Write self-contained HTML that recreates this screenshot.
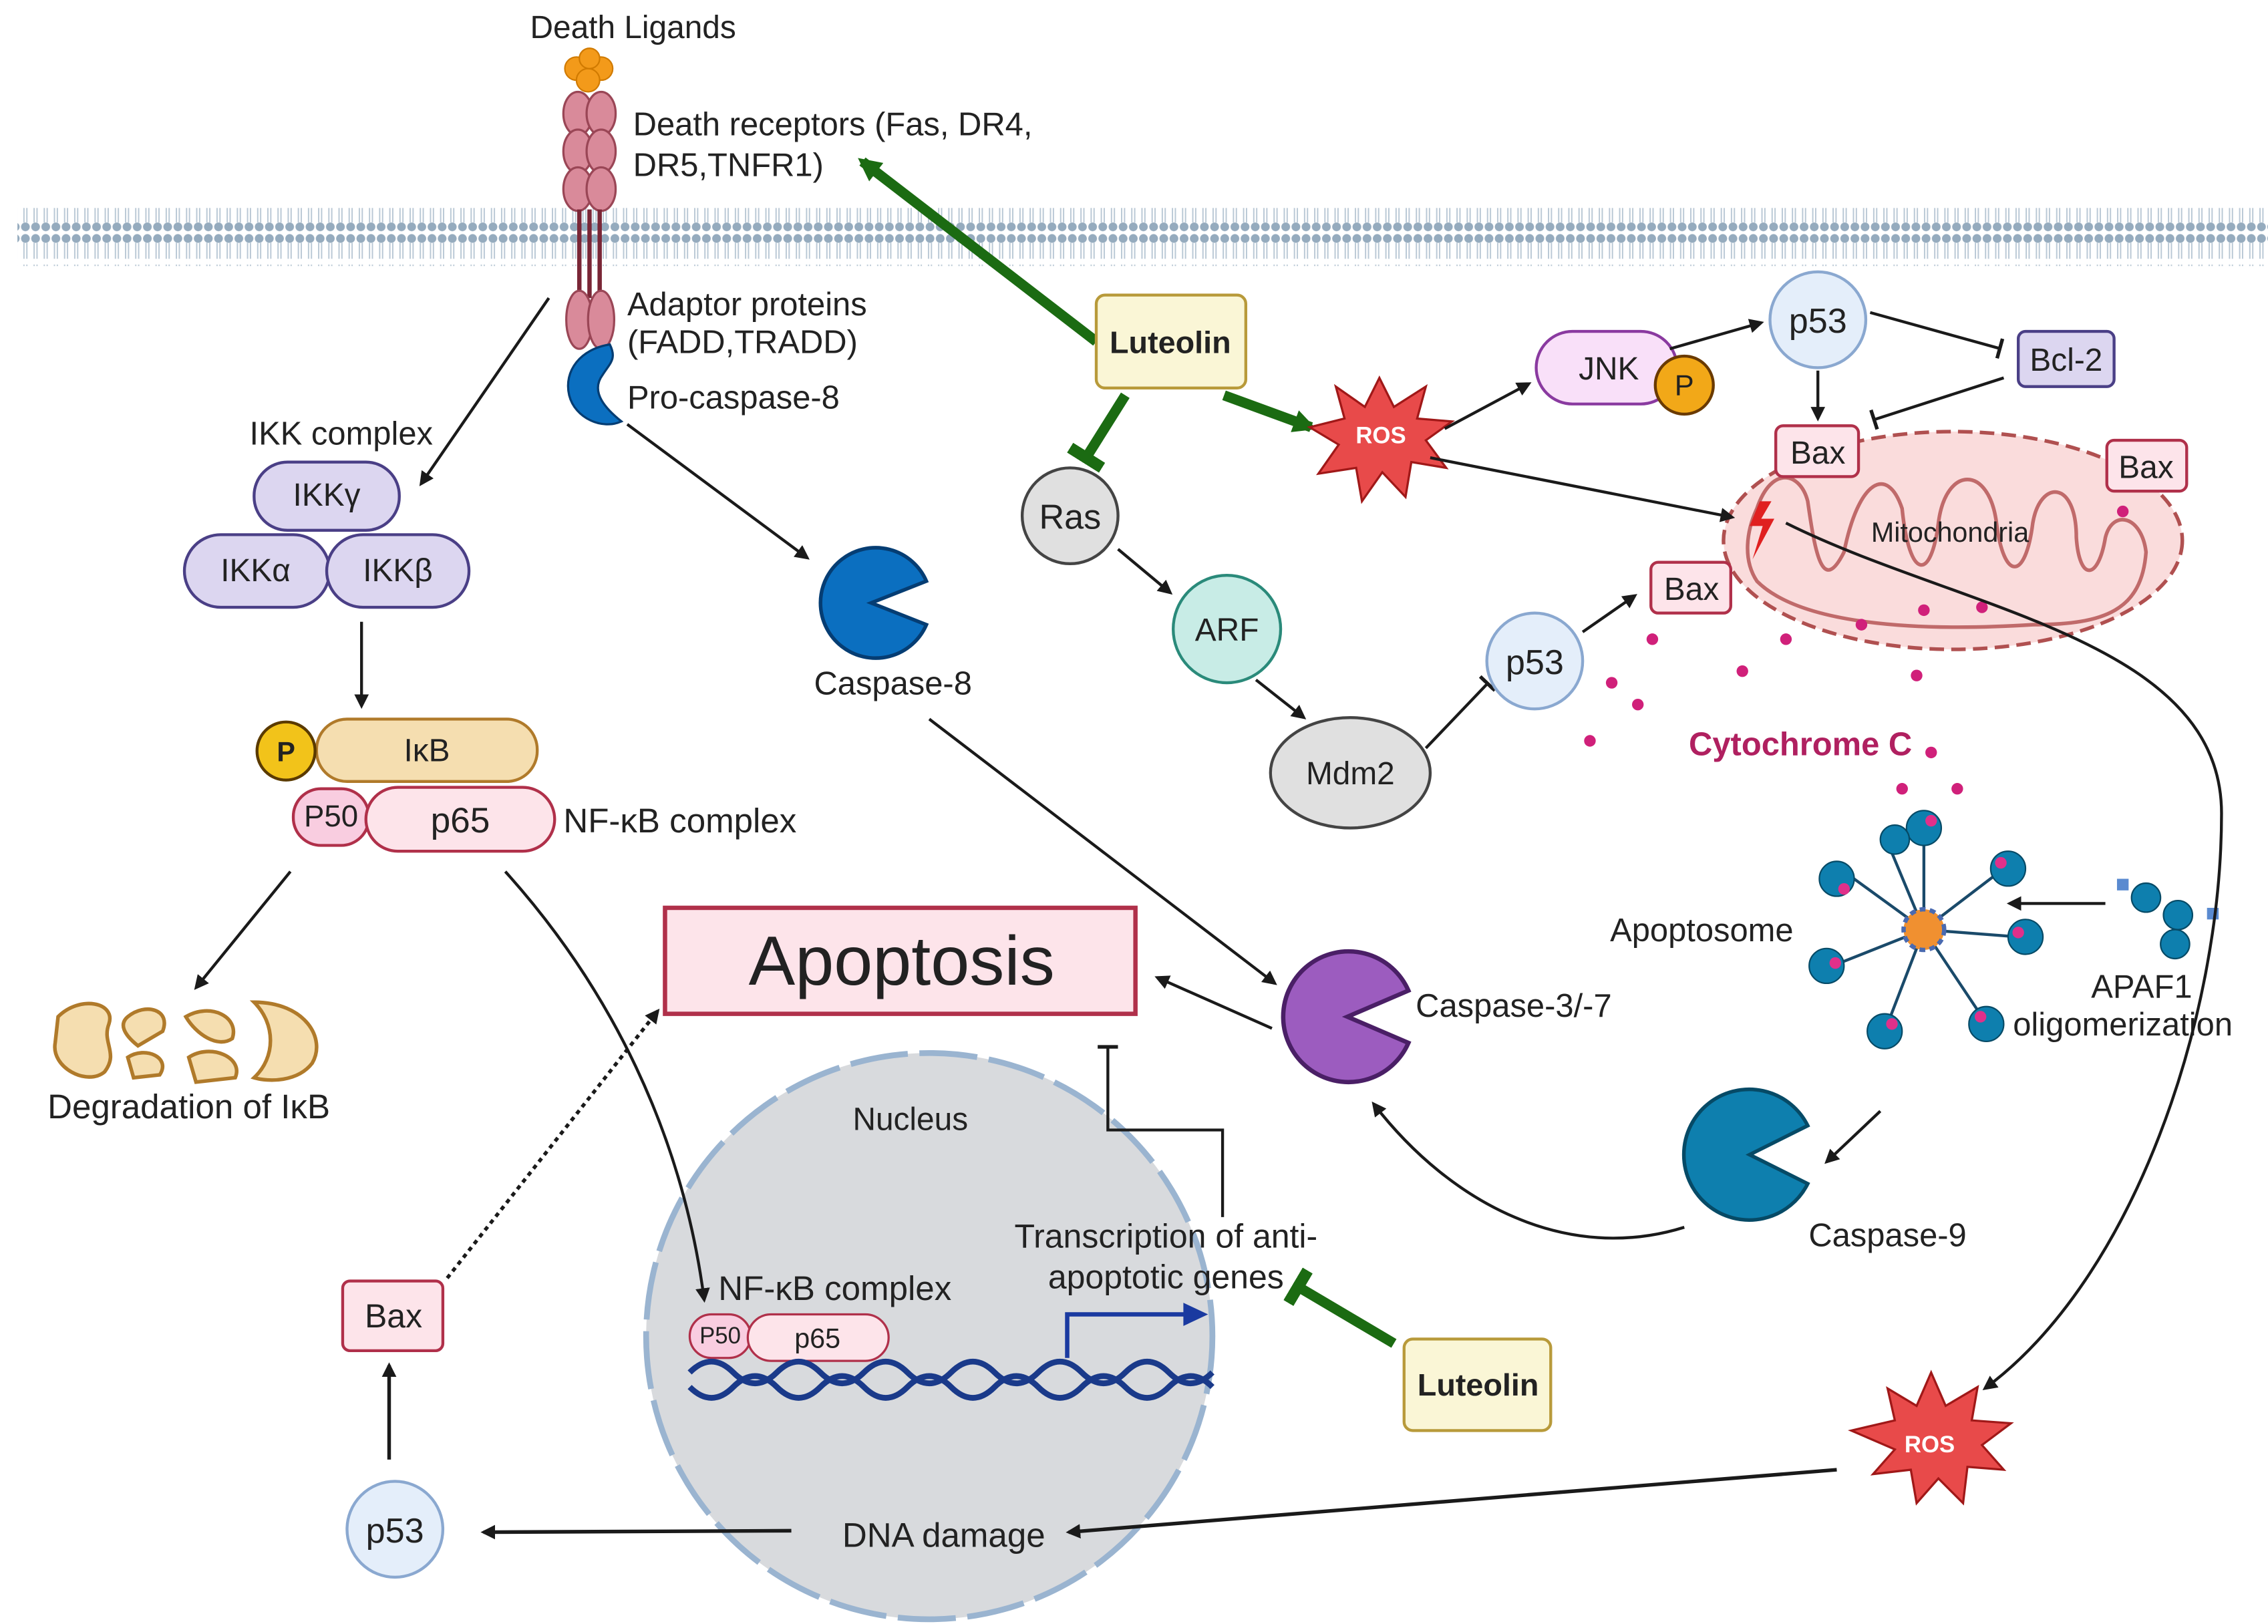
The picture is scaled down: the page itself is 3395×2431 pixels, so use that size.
<!DOCTYPE html>
<html><head><meta charset="utf-8"><style>
html,body{margin:0;padding:0;background:#fff}
svg{display:block}
text{font-family:"Liberation Sans",sans-serif;fill:#222}
</style></head><body>
<svg width="3395" height="2431" viewBox="0 0 1562 1118" xmlns="http://www.w3.org/2000/svg">
<defs>
<marker id="a" markerWidth="10" markerHeight="10" refX="8" refY="5" orient="auto" markerUnits="userSpaceOnUse"><path d="M0,0 L10,5 L0,10 z" fill="#1a1a1a"/></marker>
<marker id="g" markerWidth="16" markerHeight="16" refX="12" refY="8" orient="auto" markerUnits="userSpaceOnUse"><path d="M0,0 L16,8 L0,16 z" fill="#1b6b12"/></marker>
<marker id="t" markerWidth="4" markerHeight="14" refX="2" refY="7" orient="auto" markerUnits="userSpaceOnUse"><rect x="0" y="0" width="2.5" height="14" fill="#1a1a1a"/></marker>
<marker id="tg" markerWidth="8" markerHeight="26" refX="4" refY="13" orient="auto" markerUnits="userSpaceOnUse"><rect x="0" y="0" width="8" height="26" fill="#1b6b12"/></marker>
<pattern id="mem" width="7" height="40" patternUnits="userSpaceOnUse">
<circle cx="3.5" cy="4" r="3" fill="#95abbe"/><circle cx="3.5" cy="36" r="3" fill="#95abbe"/>
<line x1="2.5" y1="7" x2="2.5" y2="18" stroke="#b9c8d5" stroke-width="0.9"/><line x1="4.5" y1="7" x2="4.5" y2="18" stroke="#b9c8d5" stroke-width="0.9"/>
<line x1="2.5" y1="22" x2="2.5" y2="33" stroke="#b9c8d5" stroke-width="0.9"/><line x1="4.5" y1="22" x2="4.5" y2="33" stroke="#b9c8d5" stroke-width="0.9"/>
</pattern>
</defs>
<rect x="12" y="143" width="1550" height="40" fill="url(#mem)"/>

<!-- death ligands & receptor -->
<text x="436" y="26" font-size="22" text-anchor="middle">Death Ligands</text>
<g fill="#f39a1a" stroke="#d07a00"><circle cx="397" cy="47" r="8"/><circle cx="414" cy="47" r="8"/><circle cx="405" cy="55" r="8"/><circle cx="406" cy="40" r="7"/></g>
<g fill="#d98a9a" stroke="#9a4656" stroke-width="1.5">
<ellipse cx="398" cy="78" rx="10" ry="15"/><ellipse cx="414" cy="78" rx="10" ry="15"/>
<ellipse cx="398" cy="104" rx="10" ry="15"/><ellipse cx="414" cy="104" rx="10" ry="15"/>
<ellipse cx="398" cy="130" rx="10" ry="15"/><ellipse cx="414" cy="130" rx="10" ry="15"/>
</g>
<g stroke="#7a2636" stroke-width="3"><line x1="399" y1="144" x2="399" y2="205"/><line x1="406" y1="144" x2="406" y2="205"/><line x1="413" y1="144" x2="413" y2="205"/></g>
<g fill="#d98a9a" stroke="#9a4656" stroke-width="1.5"><ellipse cx="399" cy="220" rx="9" ry="20"/><ellipse cx="414" cy="220" rx="9" ry="20"/></g>
<path d="M420,237 C400,240 388,255 392,272 C396,288 415,296 428,290 C418,282 406,270 415,258 C420,250 425,247 420,237 z" fill="#0b6fc0" stroke="#053d73" stroke-width="1.5"/>
<text x="436" y="93" font-size="22.5">Death receptors (Fas, DR4,</text>
<text x="436" y="121" font-size="22.5">DR5,TNFR1)</text>
<text x="432" y="217" font-size="22.5">Adaptor proteins</text>
<text x="432" y="243" font-size="22.5">(FADD,TRADD)</text>
<text x="432" y="281" font-size="22.5">Pro-caspase-8</text>

<!-- IKK -->
<line x1="378" y1="205" x2="290" y2="333" stroke="#1a1a1a" stroke-width="2" marker-end="url(#a)"/>
<text x="235" y="306" font-size="22.5" text-anchor="middle">IKK complex</text>
<g fill="#dcd6f0" stroke="#4a3f86" stroke-width="2">
<rect x="175" y="318" width="100" height="47" rx="23"/>
<rect x="127" y="368" width="100" height="50" rx="25"/>
<rect x="225" y="368" width="98" height="50" rx="25"/>
</g>
<text x="225" y="348" font-size="22" text-anchor="middle">IKKγ</text>
<text x="176" y="400" font-size="22" text-anchor="middle">IKKα</text>
<text x="274" y="400" font-size="22" text-anchor="middle">IKKβ</text>
<line x1="249" y1="428" x2="249" y2="486" stroke="#1a1a1a" stroke-width="2" marker-end="url(#a)"/>
<rect x="218" y="495" width="152" height="43" rx="21" fill="#f5deb0" stroke="#b07a2a" stroke-width="2"/>
<text x="294" y="524" font-size="22" text-anchor="middle">IκB</text>
<circle cx="197" cy="517" r="20" fill="#f2c31a" stroke="#5a3a00" stroke-width="2"/>
<text x="197" y="524" font-size="19" font-weight="bold" text-anchor="middle">P</text>
<rect x="202" y="543" width="52" height="39" rx="19" fill="#f9cde0" stroke="#b0304a" stroke-width="2"/>
<rect x="252" y="542" width="130" height="44" rx="22" fill="#fde4ea" stroke="#b0304a" stroke-width="2"/>
<text x="228" y="569" font-size="21" text-anchor="middle">P50</text>
<text x="317" y="573" font-size="24.5" text-anchor="middle">p65</text>
<text x="388" y="573" font-size="23.5">NF-κB complex</text>
<line x1="200" y1="600" x2="135" y2="680" stroke="#1a1a1a" stroke-width="2" marker-end="url(#a)"/>
<g fill="#f5deb0" stroke="#b07a2a" stroke-width="2.5">
<path d="M40,700 C55,685 80,690 75,705 C70,718 82,725 72,738 C60,748 35,735 38,718 z"/>
<path d="M88,700 C100,690 118,695 112,710 L95,720 C85,712 82,705 88,700 z"/>
<path d="M88,728 C100,720 118,728 110,740 L92,742 z"/>
<path d="M128,700 C145,690 165,700 160,715 C150,722 135,712 128,700 z"/>
<path d="M130,728 C145,718 168,728 162,742 L135,745 z"/>
<path d="M175,690 C210,690 225,715 215,732 C205,745 185,745 175,742 C190,728 190,705 175,690 z"/>
</g>
<text x="130" y="770" font-size="23.5" text-anchor="middle">Degradation of IκB</text>

<!-- Apoptosis -->
<rect x="458" y="625" width="324" height="73" fill="#fde4ea" stroke="#b0304a" stroke-width="3"/>
<text x="621" y="678" font-size="48" text-anchor="middle">Apoptosis</text>

<!-- caspase-8 -->
<line x1="432" y1="292" x2="556" y2="384" stroke="#1a1a1a" stroke-width="2" marker-end="url(#a)"/>
<path d="M600,415 L638,400 A38,38 0 1 0 638,430 z" fill="#0b6fc0" stroke="#053d73" stroke-width="2.5"/>
<text x="615" y="478" font-size="22.5" text-anchor="middle">Caspase-8</text>
<line x1="640" y1="495" x2="878" y2="677" stroke="#1a1a1a" stroke-width="2" marker-end="url(#a)"/>
<path d="M928,700 L970,682 A45,45 0 1 0 970,718 z" fill="#9c5cbf" stroke="#4a1f66" stroke-width="3"/>
<text x="975" y="700" font-size="22.5">Caspase-3/-7</text>
<line x1="876" y1="708" x2="797" y2="673" stroke="#1a1a1a" stroke-width="2" marker-end="url(#a)"/>

<!-- Luteolin top -->
<line x1="755" y1="235" x2="594" y2="111" stroke="#1b6b12" stroke-width="7" marker-end="url(#g)"/>
<line x1="843" y1="272" x2="903" y2="294" stroke="#1b6b12" stroke-width="7" marker-end="url(#g)"/>
<line x1="775" y1="272" x2="748" y2="315" stroke="#1b6b12" stroke-width="7" marker-end="url(#tg)"/>
<rect x="755" y="203" width="103" height="64" rx="6" fill="#faf6d6" stroke="#b89a3a" stroke-width="2"/>
<text x="806" y="243" font-size="21.5" font-weight="bold" text-anchor="middle">Luteolin</text>

<!-- ROS top -->
<path d="M950,260 L960,280 L982,266 L976,288 L1000,290 L982,303 L996,322 L972,318 L968,342 L952,325 L938,345 L934,322 L908,326 L922,306 L902,294 L926,288 L920,266 L940,280 z" fill="#e84a4a" stroke="#a01818" stroke-width="1.5"/>
<text x="951" y="305" font-size="16" font-weight="bold" text-anchor="middle" style="fill:#fff">ROS</text>
<line x1="995" y1="295" x2="1053" y2="264" stroke="#1a1a1a" stroke-width="2" marker-end="url(#a)"/>
<rect x="1058" y="228" width="97" height="50" rx="25" fill="#f9e0f9" stroke="#8a3aa0" stroke-width="2"/>
<text x="1108" y="261" font-size="22" text-anchor="middle">JNK</text>
<circle cx="1160" cy="265" r="20" fill="#f2a818" stroke="#6a3a00" stroke-width="2"/>
<text x="1160" y="272" font-size="20" text-anchor="middle">P</text>
<line x1="1150" y1="240" x2="1213" y2="222" stroke="#1a1a1a" stroke-width="2" marker-end="url(#a)"/>
<circle cx="1252" cy="220" r="33" fill="#e4eefa" stroke="#8aa8d0" stroke-width="2"/>
<text x="1252" y="229" font-size="24" text-anchor="middle">p53</text>
<line x1="1288" y1="215" x2="1378" y2="240" stroke="#1a1a1a" stroke-width="2" marker-end="url(#t)"/>
<rect x="1390" y="228" width="66" height="38" rx="5" fill="#dcd6f0" stroke="#4a3f86" stroke-width="2"/>
<text x="1423" y="255" font-size="22" text-anchor="middle">Bcl-2</text>
<line x1="1380" y1="260" x2="1290" y2="289" stroke="#1a1a1a" stroke-width="2" marker-end="url(#t)"/>
<line x1="1252" y1="255" x2="1252" y2="288" stroke="#1a1a1a" stroke-width="2" marker-end="url(#a)"/>

<!-- Mitochondria -->
<ellipse cx="1345" cy="372" rx="158" ry="75" fill="#fadcdc" stroke="#b05050" stroke-width="2.5" stroke-dasharray="10,5"/>
<path d="M1210,350 C1220,320 1240,325 1245,345 C1250,380 1255,410 1270,380 C1280,330 1300,320 1310,350 C1315,400 1330,400 1335,360 C1340,320 1370,320 1375,360 C1380,400 1395,400 1400,360 C1405,330 1430,330 1430,370 C1432,400 1445,400 1450,370 C1455,350 1475,355 1478,380 C1475,420 1450,430 1400,430 C1320,435 1240,430 1210,400 C1200,385 1203,365 1210,350 z" fill="none" stroke="#c06a6a" stroke-width="2.5"/>
<text x="1343" y="373" font-size="19" text-anchor="middle">Mitochondria</text>
<path d="M1212,345 L1205,362 L1214,362 L1207,385 L1222,357 L1213,357 L1220,345 z" fill="#e02020"/>
<line x1="985" y1="315" x2="1193" y2="356" stroke="#1a1a1a" stroke-width="2" marker-end="url(#a)"/>
<rect x="1223" y="293" width="57" height="35" rx="5" fill="#fde4ea" stroke="#b0304a" stroke-width="2"/>
<text x="1252" y="319" font-size="22" text-anchor="middle">Bax</text>
<rect x="1451" y="303" width="55" height="35" rx="5" fill="#fde4ea" stroke="#b0304a" stroke-width="2"/>
<text x="1478" y="329" font-size="22" text-anchor="middle">Bax</text>
<rect x="1137" y="387" width="55" height="35" rx="5" fill="#fde4ea" stroke="#b0304a" stroke-width="2"/>
<text x="1165" y="413" font-size="22" text-anchor="middle">Bax</text>

<!-- Ras pathway -->
<circle cx="737" cy="355" r="33" fill="#e0e0e0" stroke="#444" stroke-width="2"/>
<text x="737" y="364" font-size="24" text-anchor="middle">Ras</text>
<line x1="770" y1="378" x2="806" y2="408" stroke="#1a1a1a" stroke-width="2" marker-end="url(#a)"/>
<circle cx="845" cy="433" r="37" fill="#c8ece6" stroke="#2a8a7a" stroke-width="2"/>
<text x="845" y="441" font-size="22" text-anchor="middle">ARF</text>
<line x1="865" y1="468" x2="898" y2="494" stroke="#1a1a1a" stroke-width="2" marker-end="url(#a)"/>
<ellipse cx="930" cy="532" rx="55" ry="38" fill="#e0e0e0" stroke="#444" stroke-width="2"/>
<text x="930" y="540" font-size="22" text-anchor="middle">Mdm2</text>
<line x1="982" y1="515" x2="1025" y2="470" stroke="#1a1a1a" stroke-width="2" marker-end="url(#t)"/>
<circle cx="1057" cy="455" r="33" fill="#e4eefa" stroke="#8aa8d0" stroke-width="2"/>
<text x="1057" y="464" font-size="24" text-anchor="middle">p53</text>
<line x1="1090" y1="435" x2="1126" y2="410" stroke="#1a1a1a" stroke-width="2" marker-end="url(#a)"/>

<!-- cytochrome c -->
<g fill="#d0207a">
<circle cx="1138" cy="440" r="4"/><circle cx="1110" cy="470" r="4"/><circle cx="1095" cy="510" r="4"/><circle cx="1200" cy="462" r="4"/><circle cx="1230" cy="440" r="4"/><circle cx="1282" cy="430" r="4"/><circle cx="1325" cy="420" r="4"/><circle cx="1365" cy="418" r="4"/><circle cx="1320" cy="465" r="4"/><circle cx="1128" cy="485" r="4"/><circle cx="1330" cy="518" r="4"/><circle cx="1310" cy="543" r="4"/><circle cx="1348" cy="543" r="4"/><circle cx="1462" cy="352" r="4"/>
</g>
<text x="1240" y="520" font-size="22.5" font-weight="bold" text-anchor="middle" style="fill:#b02060">Cytochrome C</text>

<!-- Apoptosome -->
<g stroke="#1a4a6a" stroke-width="2" fill="none">
<line x1="1325" y1="640" x2="1325" y2="575"/><line x1="1325" y1="640" x2="1380" y2="598"/><line x1="1325" y1="640" x2="1390" y2="645"/><line x1="1325" y1="640" x2="1365" y2="700"/><line x1="1325" y1="640" x2="1300" y2="705"/><line x1="1325" y1="640" x2="1262" y2="665"/><line x1="1325" y1="640" x2="1270" y2="600"/><line x1="1325" y1="640" x2="1300" y2="580"/>
</g>
<g fill="#0e7fae" stroke="#064a66" stroke-width="1">
<circle cx="1325" cy="570" r="12"/><circle cx="1383" cy="598" r="12"/><circle cx="1395" cy="645" r="12"/><circle cx="1368" cy="705" r="12"/><circle cx="1298" cy="710" r="12"/><circle cx="1258" cy="665" r="12"/><circle cx="1265" cy="605" r="12"/><circle cx="1305" cy="578" r="10"/>
<circle cx="1478" cy="618" r="10"/><circle cx="1500" cy="630" r="10"/><circle cx="1498" cy="650" r="10"/>
</g>
<g fill="#e0308a"><circle cx="1330" cy="565" r="4"/><circle cx="1378" cy="594" r="4"/><circle cx="1390" cy="642" r="4"/><circle cx="1364" cy="700" r="4"/><circle cx="1303" cy="705" r="4"/><circle cx="1264" cy="663" r="4"/><circle cx="1270" cy="612" r="4"/></g>
<circle cx="1325" cy="640" r="14" fill="#f09030" stroke="#4a6ab0" stroke-width="3" stroke-dasharray="4,3"/>
<rect x="1458" y="605" width="8" height="8" fill="#5a8ad0"/><rect x="1520" y="625" width="8" height="8" fill="#5a8ad0"/>
<text x="1172" y="648" font-size="22.5" text-anchor="middle">Apoptosome</text>
<text x="1475" y="687" font-size="22.5" text-anchor="middle">APAF1</text>
<text x="1462" y="713" font-size="22.5" text-anchor="middle">oligomerization</text>
<line x1="1450" y1="622" x2="1384" y2="622" stroke="#1a1a1a" stroke-width="2" marker-end="url(#a)"/>
<line x1="1295" y1="765" x2="1258" y2="800" stroke="#1a1a1a" stroke-width="2" marker-end="url(#a)"/>
<path d="M1205,795 L1245,775 A45,45 0 1 0 1245,815 z" fill="#0e7fae" stroke="#064a66" stroke-width="2.5"/>
<text x="1300" y="858" font-size="22.5" text-anchor="middle">Caspase-9</text>
<path d="M1160,845 C1080,870 1000,830 946,760" fill="none" stroke="#1a1a1a" stroke-width="2" marker-end="url(#a)"/>

<!-- Nucleus -->
<circle cx="640" cy="920" r="195" fill="#d8dadd" stroke="#9ab4d0" stroke-width="4" stroke-dasharray="40,8"/>
<path d="M348,600 C420,680 470,780 485,895" fill="none" stroke="#1a1a1a" stroke-width="2" marker-end="url(#a)"/>
<text x="627" y="778" font-size="22" text-anchor="middle">Nucleus</text>
<text x="575" y="895" font-size="23.5" text-anchor="middle">NF-κB complex</text>
<rect x="475" y="905" width="42" height="30" rx="15" fill="#f9cde0" stroke="#b0304a" stroke-width="1.5"/>
<rect x="515" y="905" width="97" height="32" rx="16" fill="#fde4ea" stroke="#b0304a" stroke-width="1.5"/>
<text x="496" y="925" font-size="16" text-anchor="middle">P50</text>
<text x="563" y="928" font-size="19" text-anchor="middle">p65</text>
<path d="M475,945 Q490,930 505,945 T535,945 T565,945 T595,945 T625,945 T655,945 T685,945 T715,945 T745,945 T775,945 T805,945 T835,945" fill="none" stroke="#1a3a8a" stroke-width="4"/>
<path d="M475,955 Q490,970 505,955 T535,955 T565,955 T595,955 T625,955 T655,955 T685,955 T715,955 T745,955 T775,955 T805,955 T835,955" fill="none" stroke="#1a3a8a" stroke-width="4"/>
<path d="M735,935 L735,905 L818,905" fill="none" stroke="#1a3aa0" stroke-width="3"/>
<path d="M815,897 L832,905 L815,913 z" fill="#1a3aa0"/>
<text x="803" y="859" font-size="23" text-anchor="middle">Transcription of anti-</text>
<text x="803" y="887" font-size="23" text-anchor="middle">apoptotic genes</text>
<path d="M842,838 L842,778 L763,778 L763,720" fill="none" stroke="#1a1a1a" stroke-width="2" marker-end="url(#t)"/>
<line x1="960" y1="925" x2="894" y2="886" stroke="#1b6b12" stroke-width="7" marker-end="url(#tg)"/>
<rect x="967" y="922" width="101" height="63" rx="6" fill="#faf6d6" stroke="#b89a3a" stroke-width="2"/>
<text x="1018" y="961" font-size="21.5" font-weight="bold" text-anchor="middle">Luteolin</text>

<!-- ROS bottom -->
<path d="M1230,360 C1350,420 1530,440 1530,560 C1530,700 1470,880 1367,956" fill="none" stroke="#1a1a1a" stroke-width="2" marker-end="url(#a)"/>
<path d="M1330,945 L1340,968 L1362,955 L1358,978 L1385,980 L1365,995 L1380,1012 L1355,1010 L1352,1035 L1335,1018 L1320,1035 L1316,1012 L1290,1015 L1305,998 L1275,985 L1305,978 L1300,956 L1320,968 z" fill="#e84a4a" stroke="#a01818" stroke-width="1.5"/>
<text x="1329" y="1000" font-size="16" font-weight="bold" text-anchor="middle" style="fill:#fff">ROS</text>
<line x1="1265" y1="1012" x2="736" y2="1055" stroke="#1a1a1a" stroke-width="2.5" marker-end="url(#a)"/>
<text x="650" y="1065" font-size="23.5" text-anchor="middle">DNA damage</text>
<line x1="545" y1="1054" x2="333" y2="1055" stroke="#1a1a1a" stroke-width="2.5" marker-end="url(#a)"/>
<circle cx="272" cy="1053" r="33" fill="#e4eefa" stroke="#8aa8d0" stroke-width="2"/>
<text x="272" y="1062" font-size="24" text-anchor="middle">p53</text>
<line x1="268" y1="1005" x2="268" y2="940" stroke="#1a1a1a" stroke-width="2.5" marker-end="url(#a)"/>
<rect x="236" y="882" width="69" height="48" rx="5" fill="#fde4ea" stroke="#b0304a" stroke-width="2"/>
<text x="271" y="914" font-size="23" text-anchor="middle">Bax</text>
<line x1="308" y1="880" x2="453" y2="696" stroke="#1a1a1a" stroke-width="2.5" stroke-dasharray="3,3" marker-end="url(#a)"/>
</svg>
</body></html>
